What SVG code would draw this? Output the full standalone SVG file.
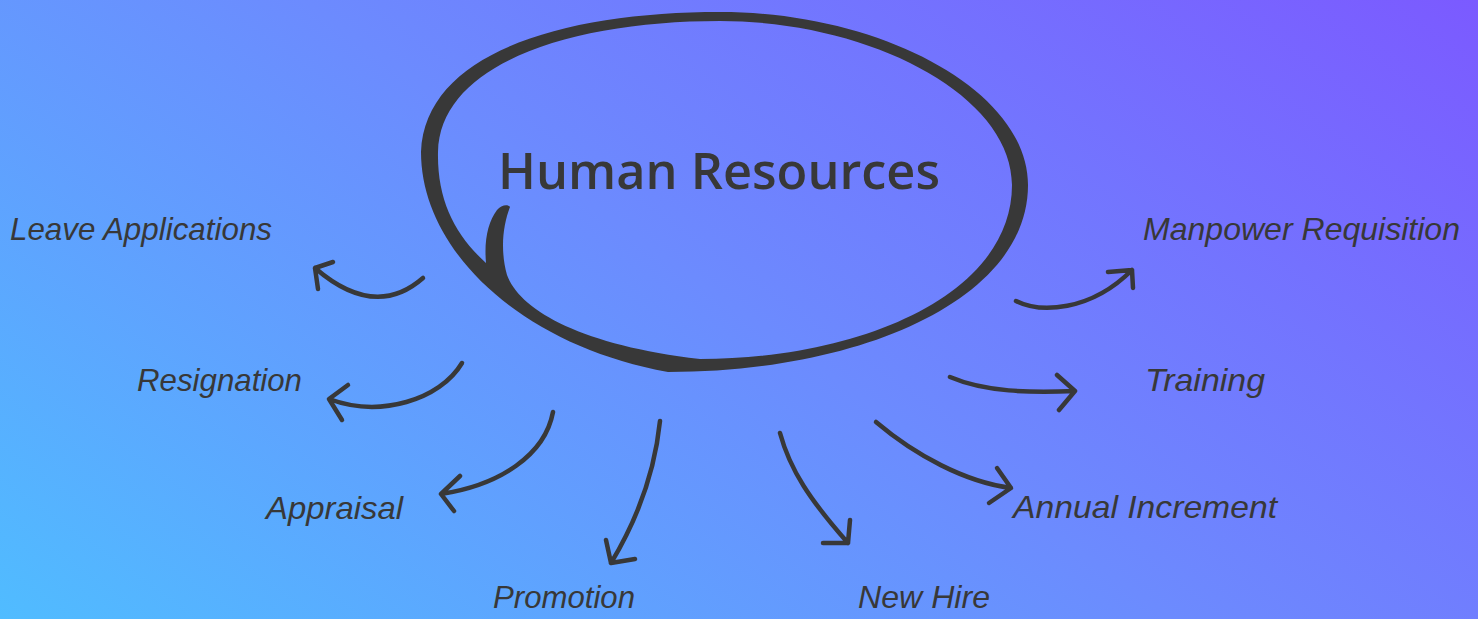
<svg xmlns="http://www.w3.org/2000/svg" width="1478" height="619" viewBox="0 0 1478 619">
<defs>
<linearGradient id="bgGrad" gradientUnits="userSpaceOnUse" x1="0" y1="619" x2="789" y2="-490">
<stop offset="0" stop-color="#50bcff"/>
<stop offset="0.5" stop-color="#6c8bfe"/>
<stop offset="1" stop-color="#7b5aff"/>
</linearGradient>
<style>
.lbl{font-family:"Liberation Sans",Arial,sans-serif;font-style:italic;font-size:32px;fill:#383838}
.title{font-family:"Open Sans","Noto Sans",sans-serif;font-weight:600;font-size:51px;fill:#383838}
.arr{fill:none;stroke:#383838;stroke-width:4.5;stroke-linecap:round;stroke-linejoin:round}
.loop{fill:#383838;fill-rule:evenodd}
</style>
</defs>
<rect id="background" x="0" y="0" width="1478" height="619" fill="url(#bgGrad)"/>

<g id="node-human-resources">
<path class="loop" d="M668,372 C860,372 1028,300 1028,185 C1028,90 880,12 720,12 C570,12 425,50 421,152 C421,250 520,345 668,372 Z
M486,263 C484,240 488,222 497,210 C501,205 508,204 510,207 C503,225 500,250 507,275 C520,310 580,345 700,359 C860,359 1012,295 1012,185 C1012,95 870,21 720,21 C575,21 440,62 438,152 C437,200 455,235 486,263 Z"/>
<text class="title" x="719" y="189" text-anchor="middle" textLength="442" lengthAdjust="spacingAndGlyphs">Human Resources</text>
</g>

<g id="connectors">
<path class="arr" d="M423,278 Q375,320 315,268 M333,262 L315,268 L318,289"/>
<path class="arr" d="M462,363 C440,400 380,418 329,399 M348,385 L329,399 L342,420"/>
<path class="arr" d="M553,412 C545,455 500,485 441,494 M460,476 L441,494 L454,511"/>
<path class="arr" d="M660,421 C655,470 640,515 611,563 M606,540 L611,563 L635,559"/>
<path class="arr" d="M780,433 C790,470 810,500 848,543 M850,520 L848,543 L823,543"/>
<path class="arr" d="M876,422 C915,455 965,482 1011,488 M997,468 L1011,488 L989,503"/>
<path class="arr" d="M950,377 C985,392 1030,393 1075,391 M1057,375 L1075,391 L1059,410"/>
<path class="arr" d="M1016,301 C1040,313 1090,312 1132,270 M1108,272 L1132,270 L1133,288"/>
</g>

<g id="node-leave-applications"><text class="lbl" x="10" y="240" textLength="262" lengthAdjust="spacingAndGlyphs">Leave Applications</text></g>
<g id="node-resignation"><text class="lbl" x="137" y="391" textLength="165" lengthAdjust="spacingAndGlyphs">Resignation</text></g>
<g id="node-appraisal"><text class="lbl" x="266" y="519" textLength="137" lengthAdjust="spacingAndGlyphs">Appraisal</text></g>
<g id="node-promotion"><text class="lbl" x="493" y="608" textLength="142" lengthAdjust="spacingAndGlyphs">Promotion</text></g>
<g id="node-new-hire"><text class="lbl" x="858" y="608" textLength="132" lengthAdjust="spacingAndGlyphs">New Hire</text></g>
<g id="node-annual-increment"><text class="lbl" x="1013" y="518" textLength="264" lengthAdjust="spacingAndGlyphs">Annual Increment</text></g>
<g id="node-training"><text class="lbl" x="1145" y="391" textLength="120" lengthAdjust="spacingAndGlyphs">Training</text></g>
<g id="node-manpower-requisition"><text class="lbl" x="1143" y="240" textLength="317" lengthAdjust="spacingAndGlyphs">Manpower Requisition</text></g>
</svg>
